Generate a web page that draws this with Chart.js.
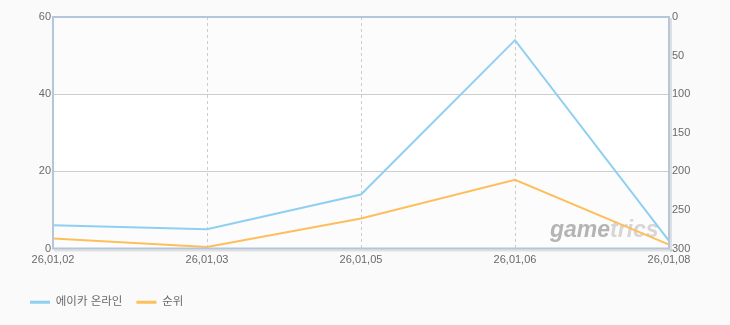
<!DOCTYPE html>
<html><head><meta charset="utf-8">
<script src="https://cdn.jsdelivr.net/npm/chart.js@4"></script>
<style>html,body{margin:0;padding:0;background:#fafafa;overflow:hidden}</style>
</head><body>
<canvas id="c" width="730" height="325"></canvas>
<script>
const categories = ['26,01,02', '26,01,03', '26,01,05', '26,01,06', '26,01,08'];
const seriesNames = ['에이카 온라인', '순위'];
const playerValues = [6, 5, 14, 54, 2];
const rankValues = [287, 298, 261, 211, 295];
const leftTicks = [0, 20, 40, 60];
const rightTicks = [0, 50, 100, 150, 200, 250, 300];
const watermarkParts = ['game', 'trics'];

const FONT = "'Liberation Sans', 'Noto Sans CJK KR', sans-serif";
const TXT = '#6a6a6a';

const bgPlugin = {
  id: 'bg',
  beforeDraw(chart) {
    const {ctx, chartArea: a, scales} = chart;
    ctx.save();
    ctx.fillStyle = '#fafafa';
    ctx.fillRect(0, 0, chart.width, chart.height);
    const y = scales.y;
    const bands = [[40, 60, '#fcfcfc'], [20, 40, '#ffffff'], [0, 20, '#fcfcfc']];
    bands.forEach(([lo, hi, col]) => {
      const t = y.getPixelForValue(hi), b = y.getPixelForValue(lo);
      ctx.fillStyle = col;
      ctx.fillRect(a.left, t, a.right - a.left, b - t);
    });
    ctx.restore();
  },
  beforeDatasetsDraw(chart) {
    const {ctx, chartArea: a} = chart;
    ctx.save();
    ctx.font = "italic bold 23px 'Liberation Sans', sans-serif";
    ctx.textBaseline = 'alphabetic';
    let x = a.right - 119;
    const yb = a.bottom - 12;
    ctx.fillStyle = '#b4b4b4';
    ctx.fillText(watermarkParts[0], x, yb);
    x += ctx.measureText(watermarkParts[0]).width;
    ctx.fillStyle = '#d6d6d6';
    ctx.fillText(watermarkParts[1], x, yb);
    ctx.restore();
  },
  afterDatasetsDraw(chart) {
    const {ctx, chartArea: a} = chart;
    ctx.save();
    ctx.fillStyle = 'rgba(0,0,0,0.10)';
    ctx.fillRect(a.left + 1, a.bottom + 1, a.right - a.left + 2, 2);
    ctx.fillRect(a.right + 1, a.top + 1, 2, a.bottom - a.top + 2);
    ctx.strokeStyle = '#b4c6da';
    ctx.lineWidth = 2;
    ctx.strokeRect(a.left, a.top, a.right - a.left, a.bottom - a.top);
    ctx.restore();
  }
};

new Chart(document.getElementById('c'), {
  type: 'line',
  data: {
    labels: categories,
    datasets: [
      {label: seriesNames[0], data: playerValues, yAxisID: 'y', borderColor: '#8fd0f0', backgroundColor: '#8fd0f0', borderWidth: 2, pointRadius: 0, tension: 0},
      {label: seriesNames[1], data: rankValues, yAxisID: 'y1', borderColor: '#fdbf5c', backgroundColor: '#fdbf5c', borderWidth: 2, pointRadius: 0, tension: 0}
    ]
  },
  options: {
    responsive: false,
    animation: false,
    events: [],
    layout: {padding: {top: 17, left: 16, right: 0, bottom: 7}},
    plugins: {
      tooltip: {enabled: false},
      legend: {
        position: 'bottom',
        align: 'start',
        labels: {
          boxWidth: 20, boxHeight: 3, padding: 14, color: TXT,
          font: {size: 11.5, family: FONT},
          generateLabels(chart) {
            return Chart.defaults.plugins.legend.labels.generateLabels(chart).map(l => Object.assign(l, {lineWidth: 0}));
          }
        }
      }
    },
    scales: {
      x: {
        offset: false,
        grid: {color: '#cccccc', drawTicks: false, tickBorderDash: [3, 3]},
        border: {display: false, dash: [3, 3]},
        ticks: {color: TXT, font: {size: 11, family: FONT}, padding: 5, autoSkip: false, maxRotation: 0},
        afterFit(s) { s.height = 34; }
      },
      y: {
        position: 'left', min: 0, max: 60,
        afterBuildTicks(s) { s.ticks = leftTicks.map(v => ({value: v})); },
        grid: {color: '#cccccc', drawTicks: false},
        border: {display: false},
        ticks: {color: TXT, font: {size: 11, family: FONT}, padding: 2},
        afterFit(s) { s.width = 37; }
      },
      y1: {
        position: 'right', min: 0, max: 300, reverse: true,
        afterBuildTicks(s) { s.ticks = rightTicks.map(v => ({value: v})); },
        grid: {display: false, drawTicks: false},
        border: {display: false},
        ticks: {color: TXT, font: {size: 11, family: FONT}, padding: 3},
        afterFit(s) { s.width = 61; }
      }
    }
  },
  plugins: [bgPlugin]
});
</script>
</body></html>
